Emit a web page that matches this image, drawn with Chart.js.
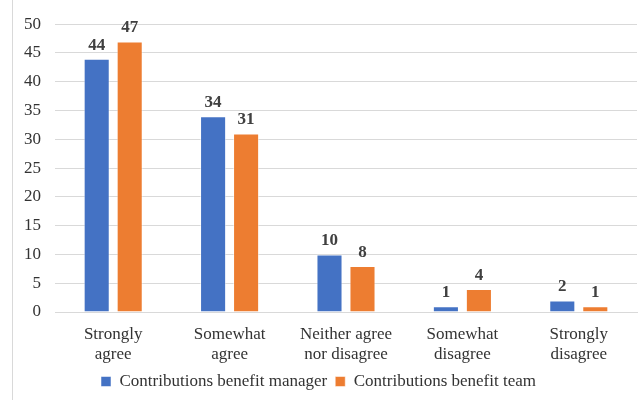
<!DOCTYPE html>
<html>
<head>
<meta charset="utf-8">
<script src="https://cdn.jsdelivr.net/npm/chart.js@4/dist/chart.umd.min.js"></script>
<style>
  html, body { margin: 0; padding: 0; background: #fff; }
  #wrap { width: 639px; height: 400px; position: relative; }
  .pre { position: absolute; left: -9999px; top: 0; font-family: "Liberation Serif"; font-size: 17px; }
</style>
</head>
<body>
<div class="pre">Strongly agree 44</div>
<div class="pre" style="font-weight:bold">Strongly agree 44</div>
<div id="wrap"><canvas id="c" width="639" height="400"></canvas></div>
<script>
const categories = [["Strongly","agree"],["Somewhat","agree"],["Neither agree","nor disagree"],["Somewhat","disagree"],["Strongly","disagree"]];
const managerValues = [44, 34, 10, 1, 2];
const teamValues = [47, 31, 8, 4, 1];
const seriesNames = ["Contributions benefit manager", "Contributions benefit team"];
const yTicks = [0, 5, 10, 15, 20, 25, 30, 35, 40, 45, 50];

const FONT = '"Liberation Serif", "Times New Roman", serif';
Chart.defaults.font.family = FONT;

const frameLine = {
  id: 'frameLine',
  beforeDraw(chart) {
    const ctx = chart.ctx;
    ctx.save();
    ctx.strokeStyle = '#d9d9d9';
    ctx.lineWidth = 1;
    ctx.beginPath();
    ctx.moveTo(12.5, 0);
    ctx.lineTo(12.5, 400);
    ctx.stroke();
    ctx.restore();
  }
};

const valueLabels = {
  id: 'valueLabels',
  afterDatasetsDraw(chart) {
    const ctx = chart.ctx;
    ctx.save();
    ctx.font = 'bold 17px ' + FONT;
    ctx.fillStyle = '#404040';
    ctx.textAlign = 'center';
    ctx.textBaseline = 'bottom';
    chart.data.datasets.forEach((ds, i) => {
      const meta = chart.getDatasetMeta(i);
      meta.data.forEach((bar, j) => {
        ctx.fillText(String(ds.data[j]), bar.x, bar.y - 5);
      });
    });
    ctx.restore();
  }
};

const chart = new Chart(document.getElementById('c'), {
  type: 'bar',
  data: {
    labels: categories,
    datasets: [
      { label: seriesNames[0], data: managerValues, backgroundColor: '#4472C4', borderColor: 'rgba(255,255,255,0.5)', borderWidth: 1 },
      { label: seriesNames[1], data: teamValues, backgroundColor: '#ED7D31', borderColor: 'rgba(255,255,255,0.5)', borderWidth: 1 }
    ]
  },
  options: {
    responsive: false,
    animation: false,
    devicePixelRatio: 1,
    layout: { padding: { top: 15, right: 2, bottom: 0, left: 0 } },
    datasets: { bar: { categoryPercentage: 0.567, barPercentage: 0.79 } },
    plugins: {
      legend: {
        position: 'bottom',
        labels: {
          font: { family: FONT, size: 17 },
          color: '#333',
          boxWidth: 10,
          boxHeight: 10,
          padding: 8,
          useBorderRadius: false
        }
      },
      tooltip: { enabled: false }
    },
    scales: {
      x: {
        grid: { display: false },
        border: { display: true, color: '#d9d9d9' },
        ticks: { font: { family: FONT, size: 17, lineHeight: 1.2 }, color: '#333', padding: 4, maxRotation: 0, autoSkip: false },
        afterFit(scale) { scale.height = 53; }
      },
      y: {
        min: 0, max: 50,
        afterBuildTicks(scale) { scale.ticks = yTicks.map(v => ({ value: v })); },
        grid: { color: '#d9d9d9', drawTicks: false },
        border: { display: false },
        ticks: { font: { family: FONT, size: 17 }, color: '#333', padding: 14 },
        afterFit(scale) { scale.width = 55; }
      }
    }
  },
  plugins: [frameLine, valueLabels]
});

document.fonts.ready.then(() => { chart.update('none'); });
</script>
</body>
</html>
